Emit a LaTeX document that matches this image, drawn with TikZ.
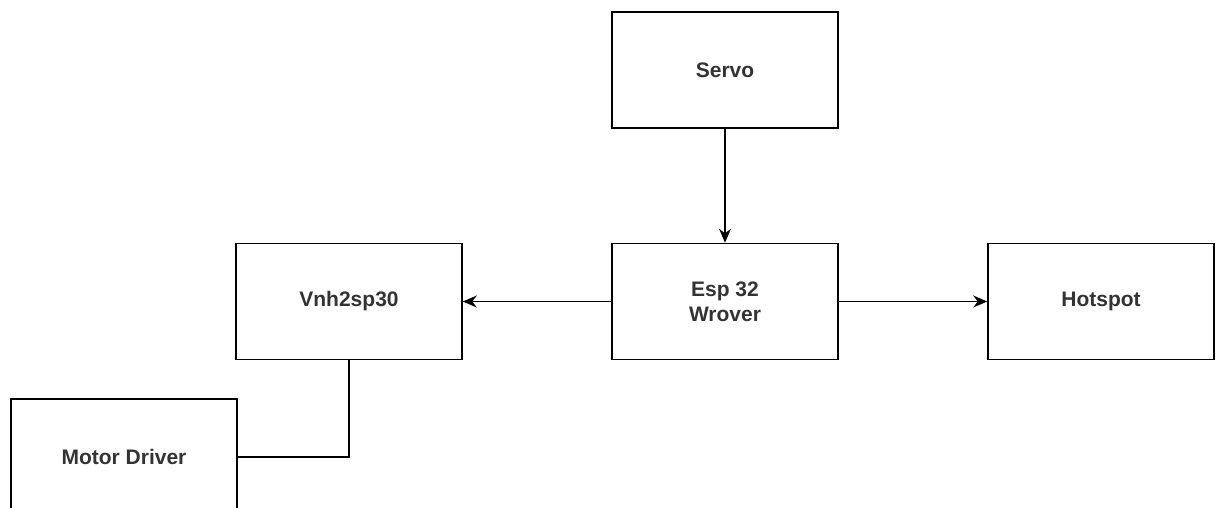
\documentclass[tikz,border=0pt]{standalone}
\usepackage{fontspec}
\setmainfont{Liberation Sans}
\usetikzlibrary{arrows.meta}
\begin{document}
\begin{tikzpicture}[x=1pt,y=-1pt,
  box/.style={draw=black,line width=1.6pt,minimum width=226pt,minimum height=116pt,inner sep=0pt,
    font=\fontsize{21}{25}\selectfont\bfseries,text=black!80,align=center},
  link/.style={draw=black,line width=1.6pt},
  arr/.style={link,-{Stealth[length=14pt,width=12pt]}}]
\useasboundingbox (0,0) rectangle (1218,507);
\clip (0,0) rectangle (1218,507);
\node[box] (servo) at (725,70) {Servo};
\node[box] (esp) at (725,301.5) {Esp 32\\Wrover};
\node[box] (vnh) at (349,301.5) {Vnh2sp30};
\node[box] (hot) at (1101,301.5) {Hotspot};
\node[box] (motor) at (124,457) {Motor Driver};
\draw[arr] (servo) -- (esp);
\draw[arr] (esp) -- (vnh);
\draw[arr] (esp) -- (hot);
\draw[link] (vnh.south) |- (motor.east);
\end{tikzpicture}
\end{document}
